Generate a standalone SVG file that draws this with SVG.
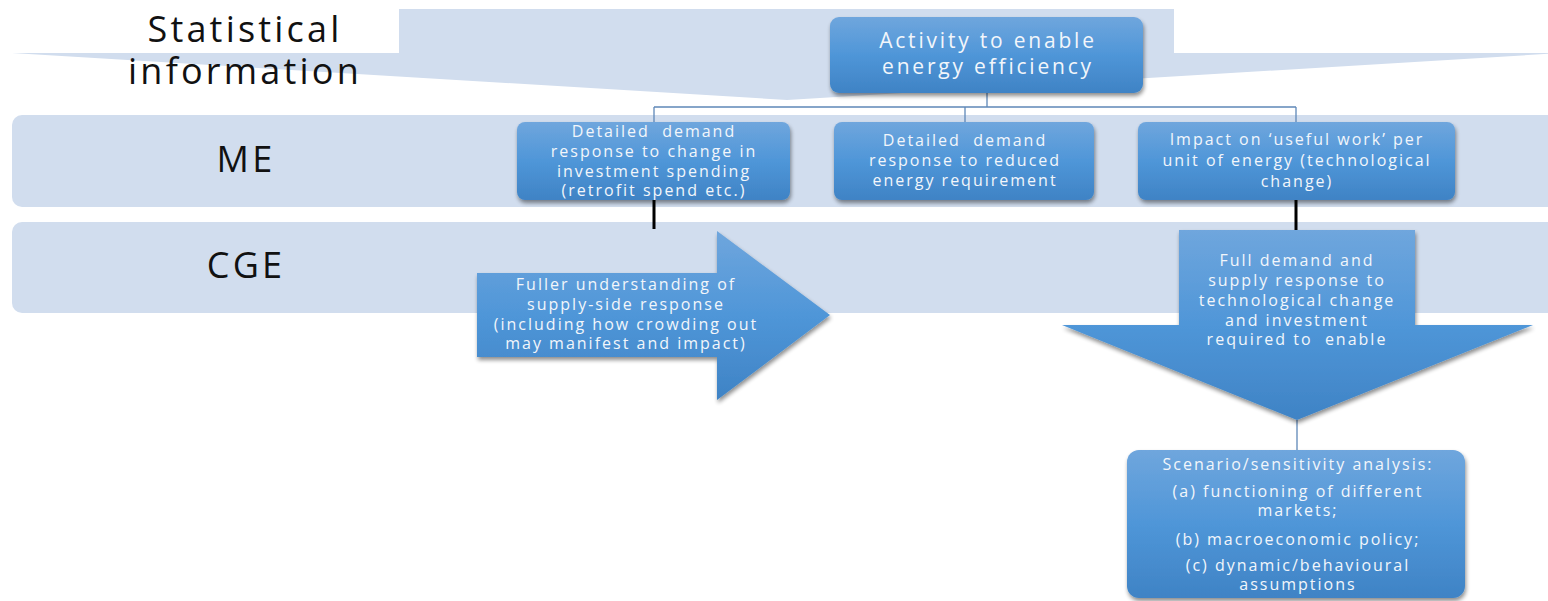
<svg xmlns="http://www.w3.org/2000/svg" width="1548" height="601" viewBox="0 0 1548 601">
  <defs>
    <linearGradient id="blueFill" x1="0" y1="0" x2="0" y2="1">
      <stop offset="0" stop-color="#6fa6dd"/>
      <stop offset="0.5" stop-color="#4f96d8"/>
      <stop offset="1" stop-color="#3f83c5"/>
    </linearGradient>
    <filter id="shadow" x="-10%" y="-10%" width="120%" height="130%">
      <feGaussianBlur in="SourceAlpha" stdDeviation="2"/>
      <feOffset dx="1" dy="3" result="b"/>
      <feComponentTransfer><feFuncA type="linear" slope="0.45"/></feComponentTransfer>
      <feMerge><feMergeNode/><feMergeNode in="SourceGraphic"/></feMerge>
    </filter>
    <style>
      .band { fill: #d1ddee; }
      .label { font-family: "Open Sans", Lato, sans-serif; fill: #111; text-anchor: middle; font-size: 36px; letter-spacing: 3.2px; }
      .node { fill: url(#blueFill); filter: url(#shadow); }
      .ntext { font-family: "Open Sans", Lato, sans-serif; fill: #f2f6fb; text-anchor: middle; font-size: 16px; letter-spacing: 2px; }
      .big { font-size: 21px; letter-spacing: 2.8px; }
      .tree { fill: none; stroke: #5f88b8; stroke-width: 1.3; }
      .link { fill: none; stroke: #000; stroke-width: 3; }
    </style>
  </defs>

  <!-- background layers -->
  <g id="bands">
    <polygon class="band" points="399,9 1174,9 1174,53 1562,53 787,100 12,53 399,53"/>
    <rect class="band" x="12" y="115" width="1550" height="92" rx="10"/>
    <rect class="band" x="12" y="222" width="1550" height="91" rx="10"/>
  </g>

  <g id="row-labels">
    <text class="label" x="245" y="42">Statistical</text>
    <text class="label" x="245" y="84">information</text>
    <text class="label" x="246" y="172">ME</text>
    <text class="label" x="246" y="278">CGE</text>
  </g>

  <!-- connectors -->
  <g id="connectors">
    <path class="tree" d="M987,93 V107 M654,107 H1296 M654,107 V122 M965,107 V122 M1296,107 V122 M1297,420 V450"/>
    <path class="link" d="M654,200 V229 M1296,200 V231"/>
  </g>

  <g id="activity">
    <rect class="node" x="830" y="17" width="313" height="76" rx="9"/>
    <text class="ntext big" x="988" y="48">Activity to enable</text>
    <text class="ntext big" x="988" y="74">energy efficiency</text>
  </g>

  <g id="me-investment">
    <rect class="node" x="517" y="122" width="273" height="78" rx="8"/>
    <text class="ntext" x="654" y="137" xml:space="preserve">Detailed  demand</text>
    <text class="ntext" x="654" y="157">response to change in</text>
    <text class="ntext" x="654" y="177">investment spending</text>
    <text class="ntext" x="654" y="196">(retrofit spend etc.)</text>
  </g>

  <g id="me-demand">
    <rect class="node" x="834" y="122" width="260" height="78" rx="8"/>
    <text class="ntext" x="965" y="146" xml:space="preserve">Detailed  demand</text>
    <text class="ntext" x="965" y="166">response to reduced</text>
    <text class="ntext" x="965" y="186">energy requirement</text>
  </g>

  <g id="me-useful-work">
    <rect class="node" x="1138" y="122" width="317" height="78" rx="8"/>
    <text class="ntext" x="1297" y="145">Impact on ‘useful work’ per</text>
    <text class="ntext" x="1297" y="166">unit of energy (technological</text>
    <text class="ntext" x="1297" y="187">change)</text>
  </g>

  <g id="cge-supply">
    <polygon class="node" points="477,273 717,273 717,231 830,315 717,400 717,357 477,357"/>
    <text class="ntext" x="626" y="290">Fuller understanding of</text>
    <text class="ntext" x="626" y="310">supply-side response</text>
    <text class="ntext" x="626" y="330">(including how crowding out</text>
    <text class="ntext" x="626" y="349">may manifest and impact)</text>
  </g>

  <g id="cge-full">
    <polygon class="node" points="1179,230 1415,230 1415,325 1533,325 1297,420 1062,325 1179,325"/>
    <text class="ntext" x="1297" y="266">Full demand and</text>
    <text class="ntext" x="1297" y="286">supply response to</text>
    <text class="ntext" x="1297" y="306">technological change</text>
    <text class="ntext" x="1297" y="326">and investment</text>
    <text class="ntext" x="1297" y="345" xml:space="preserve">required to  enable</text>
  </g>

  <g id="scenarios">
    <rect class="node" x="1127" y="450" width="338" height="148" rx="12"/>
    <text class="ntext" x="1298" y="470">Scenario/sensitivity analysis:</text>
    <text class="ntext" x="1298" y="497">(a) functioning of different</text>
    <text class="ntext" x="1298" y="516">markets;</text>
    <text class="ntext" x="1298" y="545">(b) macroeconomic policy;</text>
    <text class="ntext" x="1298" y="571">(c) dynamic/behavioural</text>
    <text class="ntext" x="1298" y="590">assumptions</text>
  </g>
</svg>
